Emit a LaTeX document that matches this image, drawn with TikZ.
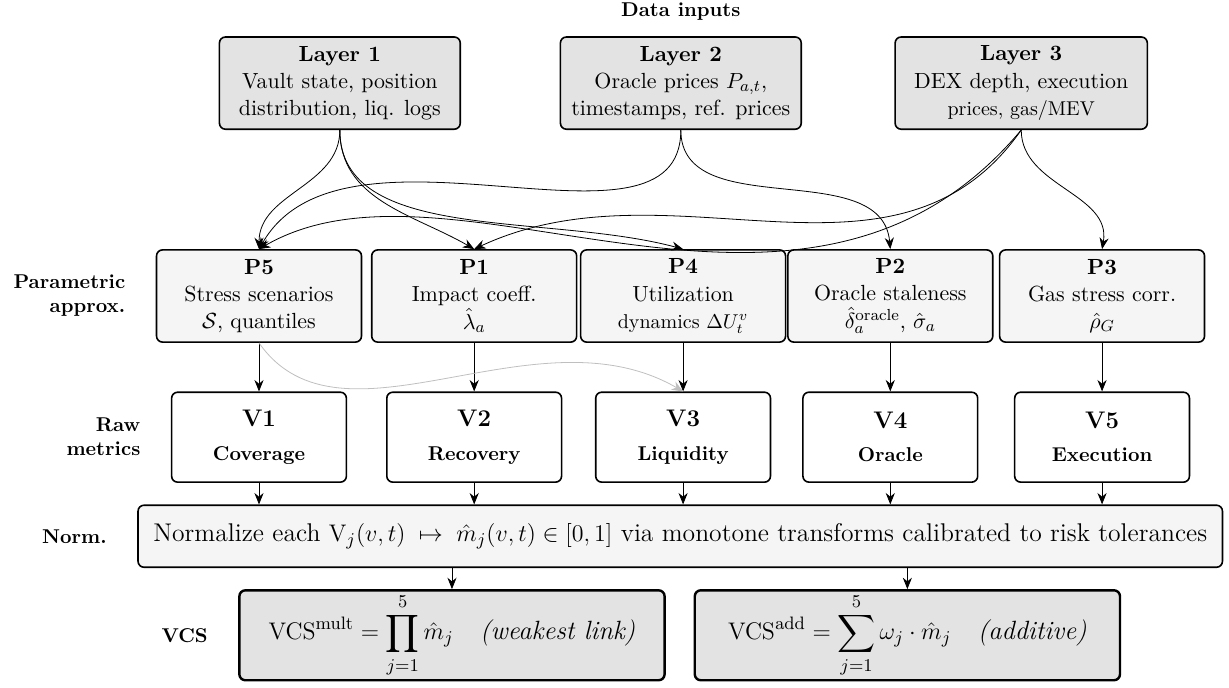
\documentclass[tikz,border=0pt,11pt]{standalone}
\usepackage{amsmath,amssymb}
\usetikzlibrary{arrows.meta,positioning}

\begin{document}
\begin{tikzpicture}[
        >={Stealth[length=2mm,width=1.6mm]},
        layerbox/.style={draw, thick, rounded corners=3pt, fill=gray!22, align=center, minimum width=4.23cm, minimum height=1.62cm},
        parbox/.style={draw, thick, rounded corners=3pt, fill=gray!8, align=center, minimum width=3.6cm, minimum height=1.62cm},
        rawbox/.style={draw, thick, rounded corners=3pt, fill=white, align=center, minimum width=3.07cm, minimum height=1.58cm},
        vcsbox/.style={draw, very thick, rounded corners=3pt, fill=gray!22, align=center, font=\fontsize{13.2}{16}\selectfont, inner ysep=0pt, minimum width=7.47cm, minimum height=1.58cm},
        rowlabel/.style={font=\small\bfseries, align=right}
    ]
        \useasboundingbox (0,0) rectangle (21.59,-12.07);

        \node[font=\small\bfseries] (title) at (11.96,-0.21) {Data inputs};

        % data layers
        \node[layerbox] (L1) at (5.97,-1.46) {\textbf{Layer 1}\\ Vault state, position\\ distribution, liq. logs};
        \node[layerbox] (L2) at (11.96,-1.46) {\textbf{Layer 2}\\ Oracle prices $P_{a,t}$,\\ timestamps, ref. prices};
        \node[layerbox, minimum width=4.43cm] (L3) at (17.94,-1.46) {\textbf{Layer 3}\\ DEX depth, execution\\ {\small prices, gas/MEV}};

        % parametric approximations
        \node[parbox] (P5) at (4.55,-5.20) {\textbf{P5}\\ Stress scenarios\\ $\mathcal{S}$, quantiles};
        \node[parbox] (P1) at (8.33,-5.20) {\textbf{P1}\\ Impact coeff.\\ $\hat{\lambda}_a$};
        \node[parbox] (P4) at (12.0,-5.20) {\textbf{P4}\\ Utilization\\ {\small dynamics $\Delta U_t^v$}};
        \node[parbox] (P2) at (15.64,-5.20) {\textbf{P2}\\ Oracle staleness\\ $\hat{\delta}_a^{\mathrm{oracle}}$, $\hat{\sigma}_a$};
        \node[parbox] (P3) at (19.36,-5.20) {\textbf{P3}\\ Gas stress corr.\\ $\hat{\rho}_G$};
        \node[rowlabel, left=4mm of P5] (lpar) {Parametric\\ approx.};

        \draw[->] (L1.south) to[out=-90, in=90] (P5.north);
        \draw[->] (L1.south) to[out=-90, in=150] (P1.north);
        \draw[->] (L1.south) to[out=-90, in=165, out looseness=0.8] (P4.north);
        \draw[->] (L2.south) to[out=-90, in=60, out looseness=0.83] (P5.north);
        \draw[->] (L2.south) to[out=-90, in=95] (P2.north);
        \draw[->] (L3.south) to[out=-130, in=30, out looseness=1.13, in looseness=0.75] (P5.north);
        \draw[->] (L3.south) to[out=-125, in=25] (P1.north);
        \draw[->] (L3.south) to[out=-90, in=80] (P3.north);

        % raw metrics
        \node[rawbox] (V1) at (4.55,-7.68) {{\large\textbf{V1}}\\[3pt] {\small\textbf{Coverage}}};
        \node[rawbox] (V2) at (8.33,-7.68) {{\large\textbf{V2}}\\[3pt] {\small\textbf{Recovery}}};
        \node[rawbox] (V3) at (12.0,-7.68) {{\large\textbf{V3}}\\[3pt] {\small\textbf{Liquidity}}};
        \node[rawbox] (V4) at (15.64,-7.68) {{\large\textbf{V4}}\\[3pt] {\small\textbf{Oracle}}};
        \node[rawbox] (V5) at (19.36,-7.68) {{\large\textbf{V5}}\\[3pt] {\small\textbf{Execution}}};
        \node[rowlabel, left=4mm of V1] (lraw) {Raw\\ metrics};

        \draw[->] (P5.south) -- (V1.north);
        \draw[->] (P1.south) -- (V2.north);
        \draw[->] (P4.south) -- (V3.north);
        \draw[->] (P2.south) -- (V4.north);
        \draw[->] (P3.south) -- (V5.north);
        \draw[->, gray!50] (P5.south) to[out=-55, in=150, out looseness=0.86, in looseness=1.03] (V3.north);

        % normalization
        \node[draw, thick, rounded corners=3pt, fill=gray!8, font=\fontsize{12.8}{15}\selectfont, inner xsep=2pt, minimum width=19.05cm, minimum height=1.09cm] (N) at (11.95,-9.42)
            {Normalize each $\mathrm{V}_j(v,t) \;\mapsto\; \hat{m}_j(v,t) \in [0,1]$ via monotone transforms calibrated to risk tolerances};
        \node[rowlabel, left=4mm of N] (lnorm) {Norm.};

        \foreach \v in {V1,V2,V3,V4,V5}
            \draw[->] (\v.south) -- (\v.south |- N.north);

        % composite scores
        \node[vcsbox] (M) at (7.94,-11.16) {$\displaystyle \mathrm{VCS}^{\mathrm{mult}} = \prod_{j=1}^{5} \hat{m}_j \quad \textit{(weakest link)}$};
        \node[vcsbox] (A) at (15.94,-11.16) {$\displaystyle \mathrm{VCS}^{\mathrm{add}} = \sum_{j=1}^{5} \omega_j \cdot \hat{m}_j \quad \textit{(additive)}$};
        \node[rowlabel, left=4mm of M] (lvcs) {VCS};

        \draw[->] (N.south -| M.north) -- (M.north);
        \draw[->] (N.south -| A.north) -- (A.north);
\end{tikzpicture}
\end{document}
